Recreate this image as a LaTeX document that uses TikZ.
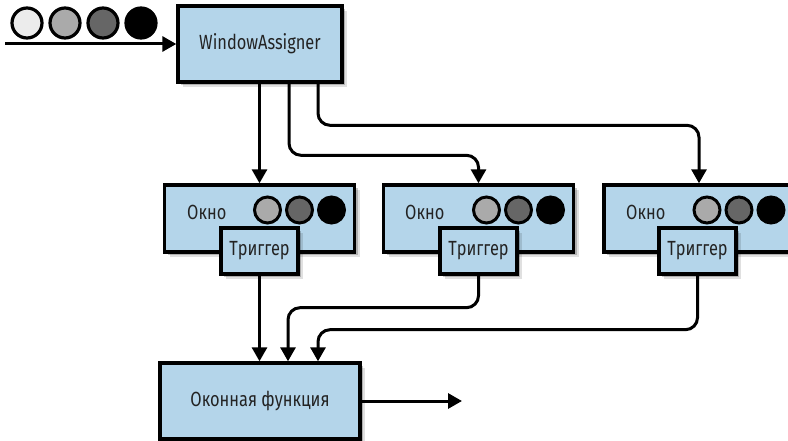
\documentclass[tikz,border=0pt]{standalone}
\usepackage{fontspec}
\setmainfont{Fira Sans}[FakeStretch=0.8]
\usetikzlibrary{arrows.meta,shadows,calc}
\definecolor{boxblue}{RGB}{180,213,234}
\definecolor{cwhite}{RGB}{236,236,236}
\definecolor{clight}{RGB}{170,170,170}
\definecolor{cdark}{RGB}{102,102,102}
\definecolor{ctext}{RGB}{35,35,35}
\tikzset{
  box/.style={draw=black, line width=3.4pt, fill=boxblue, inner sep=0pt,
    text=ctext, font=\fontsize{20.5}{24}\selectfont,
    drop shadow={shadow xshift=5pt, shadow yshift=-5pt, opacity=0.12, fill=black},
    drop shadow={shadow xshift=3pt, shadow yshift=-3pt, opacity=0.22, fill=black}},
  winbox/.style={box, minimum width=190pt, minimum height=67pt},
  trigbox/.style={box, minimum width=77pt, minimum height=46pt},
  ball/.style={circle, draw=black, line width=3pt, inner sep=0pt, minimum size=26pt},
  inball/.style={circle, draw=black, line width=3.2pt, inner sep=0pt, minimum size=30pt},
  lbl/.style={text=ctext, font=\fontsize{20.5}{24}\selectfont, inner sep=0pt},
  conn/.style={line width=3pt, rounded corners=12pt, -{Triangle[length=14pt,width=15pt]}}
}
\begin{document}
\begin{tikzpicture}[x=1pt,y=-1pt]
\useasboundingbox (0,0) rectangle (788,441);
% input circles
\node[inball, fill=cwhite] (i1) at (27,23) {};
\node[inball, fill=clight] (i2) at (65,23) {};
\node[inball, fill=cdark]  (i3) at (103,23) {};
\node[inball, fill=black]  (i4) at (141,23) {};
% window assigner
\node[box, minimum width=164pt, minimum height=76pt] (WA) at (260,44) {WindowAssigner};
\coordinate (in) at (5,44);
\draw[conn] (in) -- (in -| WA.west);
% windows
\node[winbox] (w1) at (259.5,218.5) {};
\node[winbox] (w2) at (478.5,218.5) {};
\node[winbox] (w3) at (699,218.5) {};
\node[lbl, anchor=west] (o1) at (187,212) {Окно};
\node[lbl, anchor=west] (o2) at (405,212) {Окно};
\node[lbl, anchor=west] (o3) at (626,212) {Окно};
% window circles
\node[ball, fill=clight] (a1) at (267.5,210) {};
\node[ball, fill=cdark]  (b1) at (299.5,210) {};
\node[ball, fill=black]  (c1) at (331.5,210) {};
\node[ball, fill=clight] (a2) at (486.5,210) {};
\node[ball, fill=cdark]  (b2) at (518.5,210) {};
\node[ball, fill=black]  (c2) at (550.5,210) {};
\node[ball, fill=clight] (a3) at (707,210) {};
\node[ball, fill=cdark]  (b3) at (739,210) {};
\node[ball, fill=black]  (c3) at (771,210) {};
% triggers
\node[trigbox] (t1) at (259.5,251) {Триггер};
\node[trigbox] (t2) at (478.5,251) {Триггер};
\node[trigbox] (t3) at (697.5,251) {Триггер};
% window function
\node[box, minimum width=200pt, minimum height=76pt] (res) at (260,401) {Оконная функция};
\coordinate (out) at (462,401);
% connectors from assigner to windows
\draw[conn] (w1.north |- WA.south) -- (w1.north);
\draw[conn] ([xshift=29pt]WA.south) |- ([yshift=28pt]w2.north) -- (w2.north);
\draw[conn] ([xshift=58pt]WA.south) |- ([yshift=58pt]w3.north) -- (w3.north);
% connectors from triggers to window function
\draw[conn] (t1.south) -- (t1.south |- res.north);
\draw[conn] (t2.south) -- ++(0,32) -| ([xshift=28pt]res.north);
\draw[conn] (t3.south) -- ++(0,54) -| ([xshift=58pt]res.north);
% output
\draw[conn] (res.east) -- (out);
\end{tikzpicture}
\end{document}
